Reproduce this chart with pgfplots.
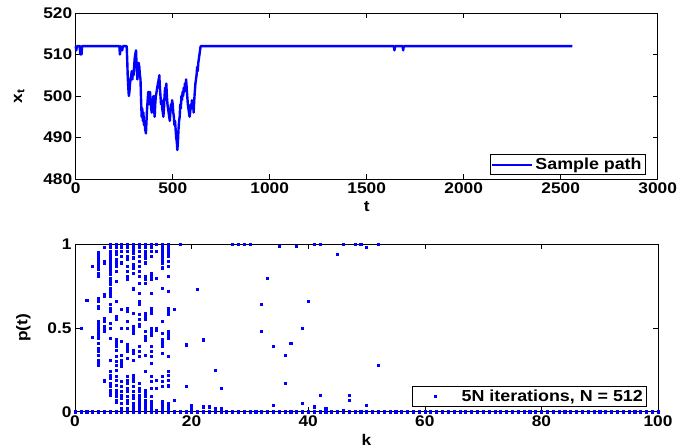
\documentclass[border=0pt]{standalone}
\usepackage{fontspec}
\setmainfont[FakeStretch=1.12]{Liberation Sans}
\usepackage{pgfplots}
\usepackage{pgfplotstable}
\pgfplotsset{compat=1.18}
\definecolor{mblue}{RGB}{0,0,255}
\pgfplotstableread{
t x
0 512
3 511
6 512
20 512
24 510
27 512
30 510
33 512
225 512
228 510
232 512
240 511
243 512
263 512
266 508
268 505
271 502
274 500
277 501
280 503
283 504
286 505
289 506
292 504
295 506
298 505
301 507
304 509
307 510
311 511
314 507
318 504
321 506
324 508
328 507
331 505
334 504
337 499
340 495
343 497
346 494
349 496
352 493
355 494
358 492
362 491
365 494
368 497
371 499
374 501
377 498
380 500
383 501
386 499
389 497
392 496
395 498
398 499
401 500
404 497
407 495
410 498
413 500
417 501
420 502
424 503
428 504
431 505
434 502
437 500
440 498
443 499
446 497
449 496
452 495
455 497
458 500
461 502
464 501
467 503
470 500
473 498
476 497
479 496
482 495
485 494
488 496
491 498
494 497
497 499
500 498
503 496
506 495
509 493
512 494
515 492
518 490
521 489
524 487
527 489
530 492
533 494
536 495
539 498
542 497
545 500
548 499
551 501
554 500
557 502
560 501
563 503
566 502
569 504
572 502
575 500
578 498
581 497
584 496
587 495
590 496
593 498
596 497
599 499
602 497
605 498
608 496
611 499
614 501
617 503
620 504
623 505
626 507
629 506
632 508
635 509
638 510
641 511
644 512
650 512
1640 512
1643 511
1646 512
1685 512
1688 511
1691 512
2560 512
}\pathdata
\pgfplotstableread{
k p
0 0
1 0
2 0
3 0
4 0
5 0
6 0
7 0
8 0
9 0
10 0
11 0
12 0
13 0
14 0
15 0
16 0
17 0
18 0
19 0
20 0
21 0
22 0
23 0
24 0
25 0
26 0
27 0
28 0
29 0
30 0
31 0
32 0
33 0
34 0
35 0
36 0
37 0
38 0
39 0
40 0
41 0
42 0
43 0
44 0
45 0
46 0
47 0
48 0
49 0
50 0
51 0
52 0
53 0
54 0
55 0
56 0
57 0
58 0
59 0
60 0
61 0
62 0
63 0
64 0
65 0
66 0
67 0
68 0
69 0
70 0
71 0
72 0
73 0
74 0
75 0
76 0
77 0
78 0
79 0
80 0
81 0
82 0
83 0
84 0
85 0
86 0
87 0
88 0
89 0
90 0
91 0
92 0
93 0
94 0
95 0
96 0
97 0
98 0
99 0
100 0
1 0.50
2 0.667
3 0.867
3 0.444
4 0.95
4 0.93
4 0.91
4 0.89
4 0.87
4 0.85
4 0.83
4 0.81
4 0.68
4 0.66
4 0.63
4 0.62
4 0.54
4 0.52
4 0.50
4 0.48
4 0.46
4 0.44
4 0.41
4 0.38
4 0.36
4 0.34
4 0.31
4 0.29
4 0.28
5 0.98
5 0.90
5 0.89
5 0.70
5 0.69
5 0.56
5 0.54
5 0.51
5 0.49
5 0.48
5 0.19
5 0.18
6 1
6 0.98
6 0.96
6 0.94
6 0.92
6 0.90
6 0.88
6 0.86
6 0.84
6 0.82
6 0.80
6 0.78
6 0.76
6 0.74
6 0.72
6 0.70
6 0.69
6 0.64
6 0.62
6 0.60
6 0.53
6 0.50
6 0.44
6 0.31
6 0.24
6 0.22
6 0.20
6 0.17
6 0.15
6 0.13
6 0.11
6 0.10
7 1
7 0.98
7 0.96
7 0.94
7 0.91
7 0.89
7 0.87
7 0.84
7 0.78
7 0.66
7 0.57
7 0.55
7 0.43
7 0.41
7 0.39
7 0.37
7 0.33
7 0.30
7 0.28
7 0.25
7 0.21
7 0.19
7 0.16
7 0.13
7 0.11
7 0.09
7 0.07
7 0.06
8 1
8 0.98
8 0.96
8 0.93
8 0.89
8 0.61
8 0.50
8 0.42
8 0.34
8 0.31
8 0.29
8 0.27
8 0.18
8 0.15
8 0.12
8 0.10
8 0.08
8 0.05
8 0.02
9 1
9 0.98
9 0.96
9 0.93
9 0.91
9 0.87
9 0.84
9 0.81
9 0.79
9 0.62
9 0.60
9 0.54
9 0.50
9 0.40
9 0.38
9 0.36
9 0.32
9 0.21
9 0.19
9 0.17
9 0.14
9 0.12
9 0.09
9 0.07
9 0.05
9 0.02
10 1
10 0.99
10 0.97
10 0.95
10 0.92
10 0.88
10 0.86
10 0.83
10 0.74
10 0.73
10 0.59
10 0.51
10 0.49
10 0.47
10 0.37
10 0.35
10 0.31
10 0.22
10 0.20
10 0.18
10 0.15
10 0.12
10 0.10
10 0.08
10 0.05
10 0.03
10 0.01
11 1
11 0.98
11 0.96
11 0.93
11 0.90
11 0.87
11 0.84
11 0.81
11 0.77
11 0.71
11 0.66
11 0.64
11 0.58
11 0.55
11 0.52
11 0.51
11 0.39
11 0.36
11 0.33
11 0.17
11 0.14
11 0.12
11 0.10
11 0.08
11 0.06
11 0.04
11 0.02
11 0.01
12 1
12 0.98
12 0.96
12 0.94
12 0.92
12 0.89
12 0.81
12 0.79
12 0.77
12 0.59
12 0.57
12 0.55
12 0.48
12 0.45
12 0.43
12 0.34
12 0.24
12 0.13
12 0.11
12 0.09
12 0.07
12 0.05
12 0.03
12 0.01
13 1
13 0.98
13 0.96
13 0.93
13 0.83
13 0.81
13 0.79
13 0.71
13 0.62
13 0.60
13 0.59
13 0.50
13 0.48
13 0.46
13 0.39
13 0.36
13 0.33
13 0.29
13 0.21
13 0.18
13 0.14
13 0.09
13 0.06
13 0.04
13 0.02
13 0.01
14 1
14 0.96
14 0.80
14 0.50
14 0.49
14 0.19
14 0.14
14 0.01
15 1
15 0.99
15 0.97
15 0.95
15 0.93
15 0.91
15 0.89
15 0.86
15 0.74
15 0.54
15 0.47
15 0.43
15 0.41
15 0.39
15 0.35
15 0.21
15 0.18
15 0.15
15 0.06
15 0.04
15 0.02
15 0.01
16 1
16 0.99
16 0.97
16 0.95
16 0.93
16 0.90
16 0.87
16 0.81
16 0.72
16 0.62
16 0.60
16 0.58
16 0.48
16 0.46
16 0.44
16 0.33
16 0.24
16 0.22
16 0.19
16 0.16
16 0.15
16 0.05
16 0.03
16 0.01
17 0.61
17 0.07
18 1
19 0.40
19 0.15
20 0.04
20 0.02
21 0.73
22 0.43
22 0.03
23 0.03
24 0.25
24 0.02
25 0.14
25 0.02
27 1
28 1
29 1
30 1
32 0.64
32 0.48
33 0.80
34 0.39
34 0.04
35 0.99
36 0.34
36 0.17
37 0.41
38 0.99
39 0.50
39 0.05
40 0.66
41 1
41 0.03
42 1
42 0.10
43 0.02
45 0.94
46 1
46 0.01
47 0.10
47 0.07
48 1
49 1
50 0.985
50 0.04
52 1
52 0.28
}\scatterdata
\pgfplotsset{
  mstyle/.style={
    scale only axis,
    anchor=south west,
    axis line style={black, line width=0.8bp},
    tick style={black, line width=0.6bp},
    tick align=inside,
    major tick length=5bp,
    xtick pos=both, ytick pos=both,
    xticklabel pos=lower, yticklabel pos=left,
    ticklabel style={font=\bfseries\fontsize{15.5}{15.5}\selectfont},
    label style={font=\bfseries\fontsize{15.5}{15.5}\selectfont},
    /pgf/number format/assume math mode=true,
    /pgf/number format/1000 sep={},
    scaled ticks=false,
    clip=false,
    legend style={font=\bfseries\fontsize{16}{16}\selectfont, draw=black, line width=0.8bp, inner sep=1.5bp, anchor=south east},
    legend cell align=left,
  }
}
\begin{document}
\begin{tikzpicture}
\useasboundingbox (0,0) rectangle (679bp,448bp);
\begin{axis}[mstyle,
  at={(75.7bp,269bp)}, width=582bp, height=166bp,
  xmin=0, xmax=3000, ymin=480, ymax=520,
  xtick={0,500,...,3000}, ytick={480,490,...,520},
  xlabel={t}, ylabel={x\textsubscript{t}},
  xlabel style={yshift=-1bp},
  ylabel style={yshift=12bp},
  legend style={at={(0.979,0.024)}},
  legend image code/.code={\draw[#1, line width=2bp] (0bp,0bp) -- (40bp,0bp);},
]
\addplot[mblue, line width=2.4bp, line join=round] table[x=t, y=x] {\pathdata};
\addlegendentry{Sample path}
\end{axis}
\begin{axis}[mstyle,
  at={(75bp,36.3bp)}, width=583bp, height=167.4bp,
  xmin=0, xmax=100, ymin=0, ymax=1,
  xtick={0,20,...,100}, ytick={0,0.5,1},
  yticklabels={0,0.5,1},
  xlabel={k}, ylabel={p(t)},
  xlabel style={yshift=-1bp},
  ylabel style={yshift=10bp},
  legend style={at={(0.9806,0.03)}},
  legend image code/.code={\path[draw=none,fill=none] (0bp,0bp) -- (46bp,0bp); \draw[#1] plot coordinates {(22bp,0bp)};},
]
\addplot[only marks, mark=square*, mark size=1.05bp, mblue] table[x=k, y=p] {\scatterdata};
\addlegendentry{5N iterations, N = 512}
\end{axis}
\end{tikzpicture}
\end{document}
